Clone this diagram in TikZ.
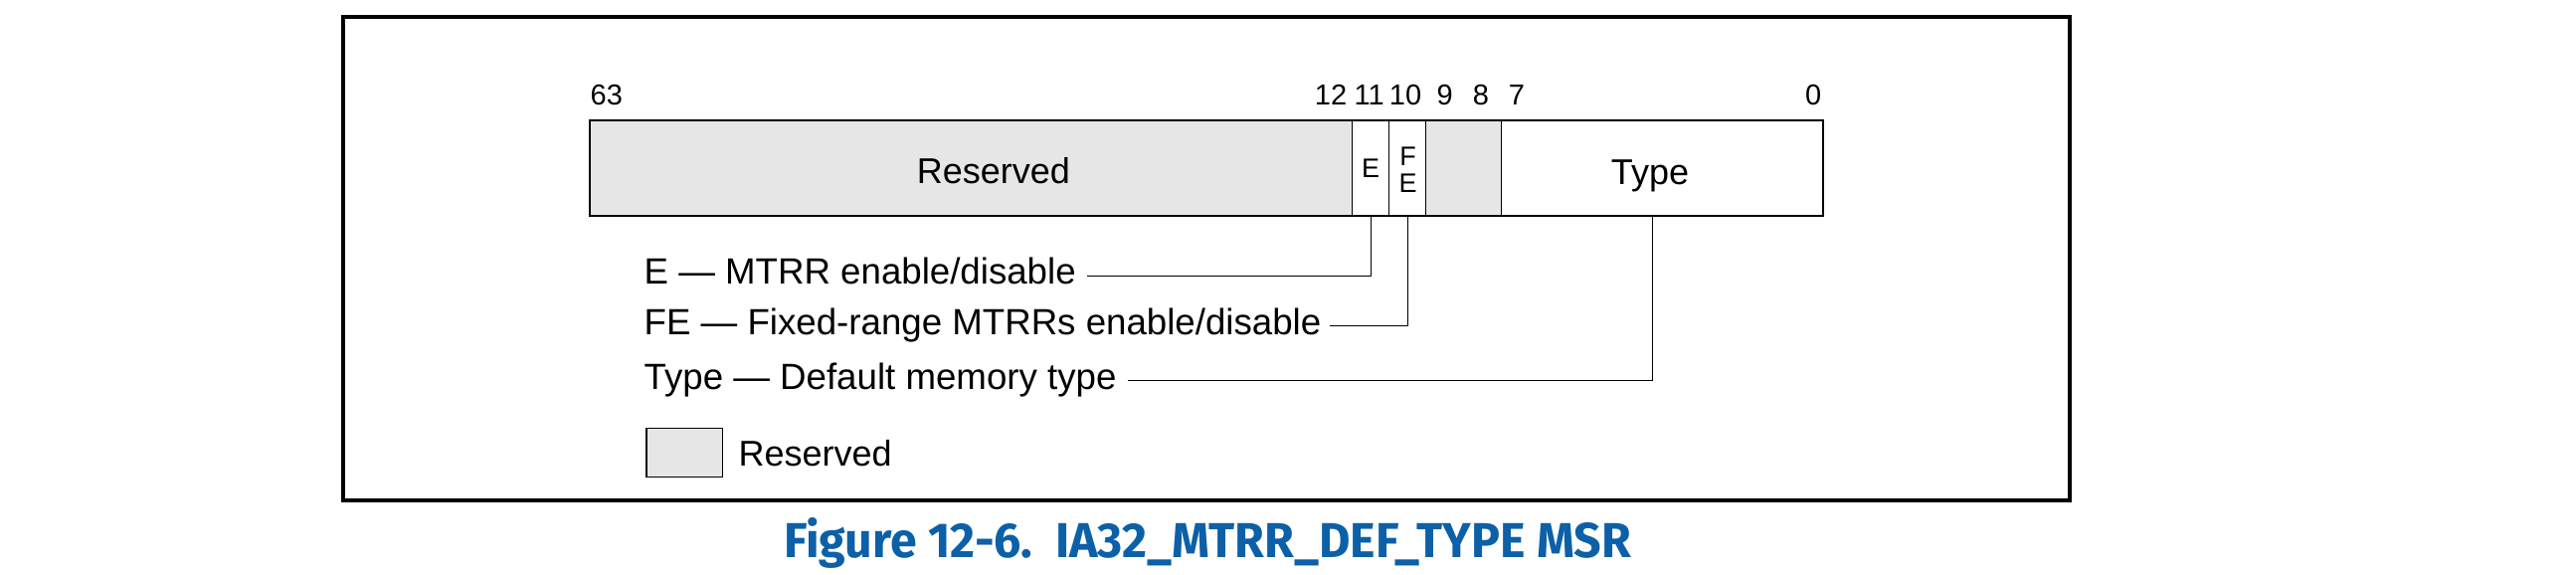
\documentclass[tikz,border=0pt]{standalone}
\usepackage{fontspec}
\usepackage{graphicx}
\setmainfont{Liberation Sans}
\newfontfamily\capfont{Fira Sans}
\definecolor{resv}{RGB}{230,230,230}
\definecolor{capblue}{RGB}{12,96,168}
\tikzset{
  cell/.style={draw, line width=0.3pt, minimum height=28.8pt, inner sep=0pt, anchor=center},
  regbox/.style={draw, line width=0.8pt, minimum height=28.8pt, minimum width=372pt, inner sep=0pt},
  frame/.style={draw, line width=1pt, minimum width=520.8pt, minimum height=145.8pt, inner sep=0pt},
  bitnum/.style={font=\fontsize{8.7pt}{10pt}\selectfont, inner sep=0pt},
  fieldtxt/.style={font=\fontsize{10.8pt}{12pt}\selectfont, inner sep=0pt},
  celltxt/.style={font=\fontsize{8.1pt}{8.1pt}\selectfont, inner sep=0pt, align=center},
  desc/.style={font=\fontsize{11pt}{12pt}\selectfont, inner sep=0pt, anchor=base west},
  conn/.style={draw, line width=0.3pt},
  legbox/.style={draw, fill=resv, line width=0.4pt, minimum width=23pt, minimum height=14.58pt, inner sep=0pt},
  captxt/.style={font=\capfont\bfseries\fontsize{14.8pt}{16pt}\selectfont, text=capblue, inner sep=0pt, anchor=base}
}
\begin{document}
\begin{tikzpicture}[x=0.3pt,y=-0.3pt]
\useasboundingbox (0,0) rectangle (2590,578);

% outer frame
\node[frame] (fr) at (1213,260) {};

% register cells
\node[cell, fill=resv, minimum width=229.89pt] (Rcell) at (976.15,169) {};
\node[cell, minimum width=11.22pt] (Ecell) at (1378,169) {};
\node[cell, minimum width=10.98pt] (FEcell) at (1415,169) {};
\node[cell, fill=resv, minimum width=22.8pt] (R98cell) at (1471.3,169) {};
\node[cell, minimum width=97.11pt] (Tcell) at (1671.15,169) {};
\node[regbox] (reg) at (1213,169) {};

% field texts
\node[fieldtxt, anchor=base] (Rtxt) at (999,185) {Reserved};
\node[fieldtxt, anchor=base] (Ttxt) at (1659,186) {Type};
\node[celltxt, anchor=base] (Etxt) at (1378,179) {E};
\node[celltxt, anchor=base] (Ftxt) at (1415.5,167) {F};
\node[celltxt, anchor=base] (FEtxt) at (1415.5,194) {E};

% bit numbers
\node[bitnum, anchor=base west] (b63) at (593,106) {63};
\node[bitnum, anchor=base] (b12) at (1338,106) {12};
\node[bitnum, anchor=base] (b11) at (1376.7,106) {11};
\node[bitnum, anchor=base] (b10) at (1413,106) {10};
\node[bitnum, anchor=base] (b9) at (1452.7,106) {9};
\node[bitnum, anchor=base] (b8) at (1489,106) {8};
\node[bitnum, anchor=base] (b7) at (1525,106) {7};
\node[bitnum, anchor=base east] (b0) at (1832,106) {0};

% descriptions
\node[desc] (dE) at (647,285.7) {E — MTRR enable/disable};
\node[desc] (dFE) at (647,336.8) {FE — Fixed-range MTRRs enable/disable};
\node[desc] (dT) at (647,391.5) {Type — Default memory type};

% connectors
\coordinate (Eend) at (1092.7,277.3);
\coordinate (FEend) at (1337.3,327.3);
\coordinate (Tend) at (1134,382.3);
\draw[conn] (Ecell.south) |- (Eend);
\draw[conn] (FEcell.south) |- (FEend);
\draw[conn] ([xshift=-2.835pt]Tcell.south) |- (Tend);

% legend
\node[legbox] (lg) at (688.3,455) {};
\node[fieldtxt, anchor=base west] (lgtxt) at (742,468.3) {Reserved};

% caption
\node[captxt] (cap) at (1214,561) {\resizebox{255.6pt}{\height}{Figure 12-6.\ \ IA32\_MTRR\_DEF\_TYPE MSR}};
\end{tikzpicture}
\end{document}
